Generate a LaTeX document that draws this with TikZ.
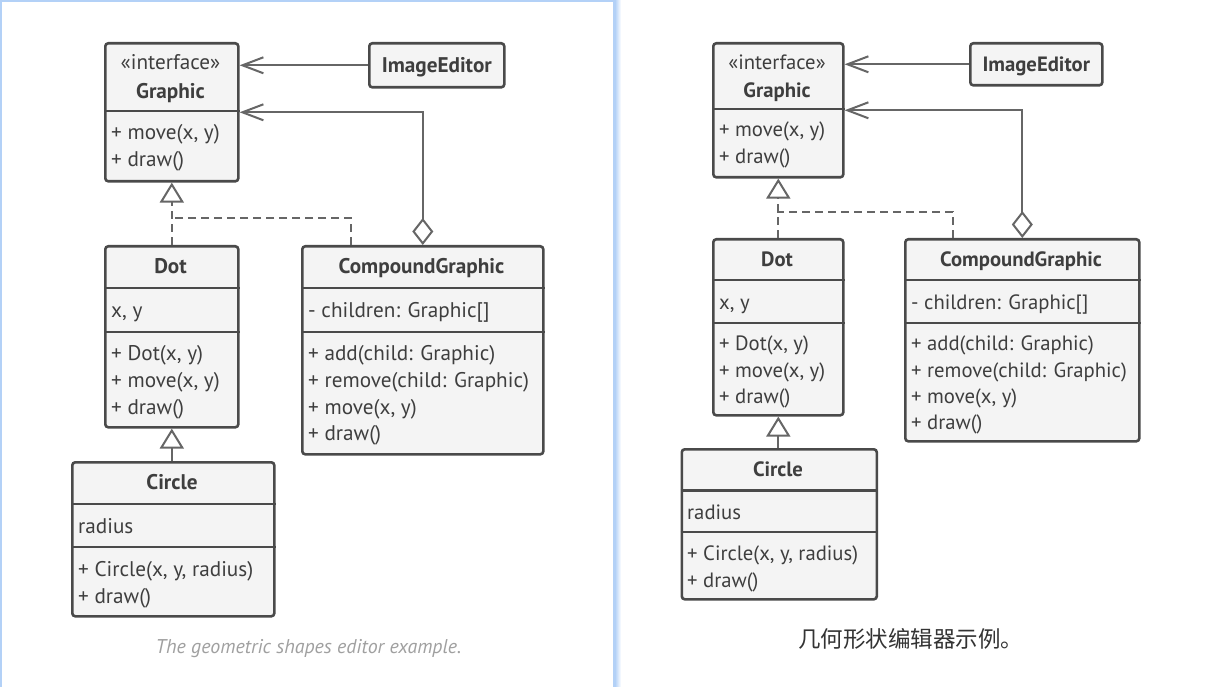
\documentclass[tikz,border=0pt]{standalone}
\usepackage{fontspec}
\setmainfont{PT Sans}
\newfontfamily\cjkfont{Noto Sans CJK SC}
\usetikzlibrary{arrows.meta,calc}
\definecolor{boxc}{HTML}{4A4A4A}
\definecolor{fillc}{HTML}{F4F4F4}
\definecolor{textc}{HTML}{3E3E3E}
\definecolor{linec}{HTML}{666666}
\definecolor{capc}{HTML}{A0A0A0}
\definecolor{cjkc}{HTML}{333333}
\definecolor{panelc}{HTML}{B3D1F7}
\newcommand\fsL{\fontsize{21.2}{24}\selectfont}
\newcommand\fsR{\fontsize{20.7}{24}\selectfont}
\begin{document}
\begin{tikzpicture}[x=1pt,y=-1pt,
  umlbox/.style={draw=boxc, fill=fillc, line width=2.6pt, rounded corners=3pt, inner sep=0pt, anchor=north west},
  divline/.style={draw=boxc, line width=2.6pt},
  txtbase/.style={text=textc, inner sep=0pt, text height=17pt, text depth=3pt},
  hdrL/.style={txtbase, font=\bfseries\fsL},
  sterL/.style={txtbase, font=\fsL},
  memL/.style={txtbase, font=\fsL, anchor=west},
  hdrR/.style={txtbase, font=\bfseries\fsR},
  sterR/.style={txtbase, font=\fsR},
  memR/.style={txtbase, font=\fsR, anchor=west},
  conn/.style={draw=linec, line width=2pt},
  barb/.style={-{Straight Barb[length=21pt,width=16pt,line width=2pt]}},
  aggr/.style={{Diamond[open,fill=white,length=27pt,width=21pt,line width=2pt]}-{Straight Barb[length=21pt,width=16pt,line width=2pt]}},
  realize/.style={dash pattern=on 8pt off 5pt},
  tri/.style={-{Triangle[open,fill=white,length=20pt,width=24pt,line width=2pt]}}
]
\useasboundingbox (0,0) rectangle (1216,687);
\fill[white] (0,0) rectangle (1216,687);
% panel frame
\shade[left color=panelc, right color=white] (615,0) rectangle (621,687);
\draw[panelc, line width=2.5pt] (1.2,690) -- (1.2,1.2) -- (614,1.2) -- (614,690);

% ================= LEFT =================
\node[umlbox, minimum width=133pt, minimum height=138pt] (gA) at (104,42) {};
\draw[divline] ($(gA.north west)+(0,69)$) -- ($(gA.north east)+(0,69)$);
\node[sterL] (gAs) at (170.5,63) {«interface»};
\node[hdrL] (gAn) at (170.5,92) {Graphic};
\node[memL] (gAm1) at (111,133) {+ move(x, y)};
\node[memL] (gAm2) at (111,160) {+ draw()};

\node[umlbox, minimum width=135pt, minimum height=44pt] (ieA) at (368,42) {};
\node[hdrL] (ieAn) at (ieA.center) {ImageEditor};

\node[umlbox, minimum width=133pt, minimum height=181pt] (dA) at (104,245) {};
\draw[divline] ($(dA.north west)+(0,43)$) -- ($(dA.north east)+(0,43)$);
\draw[divline] ($(dA.north west)+(0,87)$) -- ($(dA.north east)+(0,87)$);
\node[hdrL] (dAn) at (170.5,267) {Dot};
\node[memL] (dAa) at (111,310) {x, y};
\node[memL] (dAm1) at (111,353) {+ Dot(x, y)};
\node[memL] (dAm2) at (111,380) {+ move(x, y)};
\node[memL] (dAm3) at (111,407) {+ draw()};

\node[umlbox, minimum width=202pt, minimum height=154pt] (cA) at (71,461) {};
\draw[divline] ($(cA.north west)+(0,43)$) -- ($(cA.north east)+(0,43)$);
\draw[divline] ($(cA.north west)+(0,86)$) -- ($(cA.north east)+(0,86)$);
\node[hdrL] (cAn) at (172,482) {Circle};
\node[memL] (cAa) at (78,526) {radius};
\node[memL] (cAm1) at (78,569) {+ Circle(x, y, radius)};
\node[memL] (cAm2) at (78,596) {+ draw()};

\node[umlbox, minimum width=241pt, minimum height=208pt] (cgA) at (301,245) {};
\draw[divline] ($(cgA.north west)+(0,43)$) -- ($(cgA.north east)+(0,43)$);
\draw[divline] ($(cgA.north west)+(0,87)$) -- ($(cgA.north east)+(0,87)$);
\node[hdrL] (cgAn) at (421.5,267) {CompoundGraphic};
\node[memL] (cgAa) at (308,310) {- children: Graphic[]};
\node[memL] (cgAm1) at (308,353) {+ add(child: Graphic)};
\node[memL] (cgAm2) at (308,380) {+ remove(child: Graphic)};
\node[memL] (cgAm3) at (308,407) {+ move(x, y)};
\node[memL] (cgAm4) at (308,433) {+ draw()};

\draw[conn, barb] (ieA.west) -- (ieA.west -| gA.east);
\draw[conn, aggr] (cgA.north) |- (gA.east);
\draw[conn, realize, tri] (dA.north) -- (gA.south);
\coordinate (jA) at (170.5,218);
\draw[conn, realize] ([xshift=50pt]cgA.north west) |- (jA);
\draw[conn, tri] (cA.north -| dA.south) -- (dA.south);

\node[font=\itshape\fontsize{19.9}{22}\selectfont, text=capc, inner sep=0pt] (capA) at (308.5,649) {The geometric shapes editor example.};

% ================= RIGHT =================
\node[umlbox, minimum width=130pt, minimum height=134pt] (gB) at (712,42) {};
\draw[divline] ($(gB.north west)+(0,67)$) -- ($(gB.north east)+(0,67)$);
\node[sterR] (gBs) at (777,62.7) {«interface»};
\node[hdrR] (gBn) at (777,90.7) {Graphic};
\node[memR] (gBm1) at (719,130) {+ move(x, y)};
\node[memR] (gBm2) at (719,157) {+ draw()};

\node[umlbox, minimum width=132pt, minimum height=42pt] (ieB) at (969,42) {};
\node[hdrR] (ieBn) at (ieB.center) {ImageEditor};

\node[umlbox, minimum width=130pt, minimum height=176pt] (dB) at (712,238) {};
\draw[divline] ($(dB.north west)+(0,42)$) -- ($(dB.north east)+(0,42)$);
\draw[divline] ($(dB.north west)+(0,85)$) -- ($(dB.north east)+(0,85)$);
\node[hdrR] (dBn) at (777,259) {Dot};
\node[memR] (dBa) at (719,302) {x, y};
\node[memR] (dBm1) at (719,343) {+ Dot(x, y)};
\node[memR] (dBm2) at (719,370) {+ move(x, y)};
\node[memR] (dBm3) at (719,396) {+ draw()};

\node[umlbox, minimum width=195pt, minimum height=150pt] (cB) at (680.5,448) {};
\draw[divline] ($(cB.north west)+(0,42.5)$) -- ($(cB.north east)+(0,42.5)$);
\draw[divline] ($(cB.north west)+(0,84)$) -- ($(cB.north east)+(0,84)$);
\node[hdrR] (cBn) at (778,469) {Circle};
\node[memR] (cBa) at (687,512) {radius};
\node[memR] (cBm1) at (687,553) {+ Circle(x, y, radius)};
\node[memR] (cBm2) at (687,580) {+ draw()};

\node[umlbox, minimum width=234pt, minimum height=202pt] (cgB) at (904,238) {};
\draw[divline] ($(cgB.north west)+(0,42)$) -- ($(cgB.north east)+(0,42)$);
\draw[divline] ($(cgB.north west)+(0,85)$) -- ($(cgB.north east)+(0,85)$);
\node[hdrR] (cgBn) at (1021,259) {CompoundGraphic};
\node[memR] (cgBa) at (911,302) {- children: Graphic[]};
\node[memR] (cgBm1) at (911,343) {+ add(child: Graphic)};
\node[memR] (cgBm2) at (911,370) {+ remove(child: Graphic)};
\node[memR] (cgBm3) at (911,396) {+ move(x, y)};
\node[memR] (cgBm4) at (911,422) {+ draw()};

\draw[conn, barb] (ieB.west) -- (ieB.west -| gB.east);
\draw[conn, aggr] (cgB.north) |- (gB.east);
\draw[conn, realize, tri] (dB.north) -- (gB.south);
\coordinate (jB) at (777,212);
\draw[conn, realize] ([xshift=48.5pt]cgB.north west) |- (jB);
\draw[conn, tri] (cB.north -| dB.south) -- (dB.south);

\node[font=\cjkfont\fontsize{22.5}{24}\selectfont, text=cjkc, inner sep=0pt] (capB) at (910.5,638.5) {几何形状编辑器示例。};
\end{tikzpicture}
\end{document}
